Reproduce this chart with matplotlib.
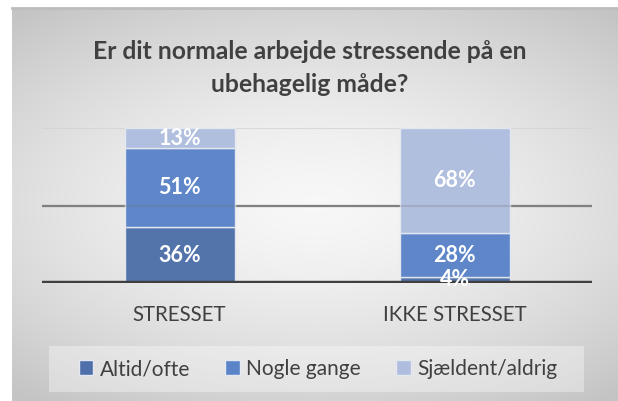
import matplotlib

matplotlib.use("Agg")
import matplotlib.pyplot as plt
import numpy as np
from matplotlib.patches import Patch, Rectangle

plt.rcParams["font.family"] = ["Lato", "DejaVu Sans"]

categories = ["STRESSET", "IKKE STRESSET"]
series_names = ["Altid/ofte", "Nogle gange", "Sjældent/aldrig"]
altid_ofte = [36, 4]
nogle_gange = [51, 28]
sjaeldent_aldrig = [13, 68]
colors = ["#4E6FA9", "#5A83C8", "#AFBEDF"]
title = "Er dit normale arbejde stressende på en\nubehagelig måde?"

W, H = 618, 401
fig = plt.figure(figsize=(W / 100, H / 100), dpi=100)
fig.patch.set_facecolor("white")

# chart area background: soft radial gradient
bg = fig.add_axes([12 / W, 0, 1 - 12 / W, (H - 8) / H])
yy, xx = np.mgrid[-1:1:200j, -1:1:300j]
r = np.sqrt((xx * 0.8) ** 2 + (yy * 1.0) ** 2)
shade = 0.97 - 0.2 * np.clip(r / 1.25, 0, 1) ** 1.5
bg.imshow(np.dstack([shade] * 3), aspect="auto", extent=[0, 1, 0, 1], interpolation="bicubic")
bg.plot([0, 1], [1, 1], color="#BDBDBD", lw=2, transform=bg.transAxes, clip_on=False)
bg.axis("off")

ax = fig.add_axes([42 / W, (H - 283) / H, 550 / W, 155 / H])
ax.patch.set_alpha(0)
x = np.arange(len(categories))
bottom = np.zeros(len(categories))
for name, vals, c in zip(series_names, [altid_ofte, nogle_gange, sjaeldent_aldrig], colors):
    ax.bar(x, vals, 0.4, bottom=bottom, color=c, edgecolor="#E4E8F0", linewidth=1.0,
           alpha=0.97, zorder=2, label=name)
    for xi, v, b in zip(x, vals, bottom):
        ax.text(xi, b + v / 2, f"{v}%", ha="center", va="center", color="white",
                fontsize=15.5, fontweight="bold", zorder=4)
    bottom += np.array(vals)

ax.set_xlim(-0.5, 1.5)
ax.set_ylim(0, 100)
ax.axhline(100, color="#D4D4D4", lw=1.2, zorder=1)
ax.axhline(50, color="#808080", lw=1.6, zorder=1)
ax.axhline(50, color="#808080", lw=1.6, alpha=0.25, zorder=3)
ax.axhline(0, color="#3F3F3F", lw=3.2, zorder=3)
for s in ax.spines.values():
    s.set_visible(False)
ax.set_yticks([])
ax.set_xticks(x)
ax.set_xticklabels(categories, fontsize=14.8, color="#404040")
ax.tick_params(axis="x", length=0, pad=16)

fig.text(310 / W, 1 - 68 / H, title, ha="center", va="center", fontsize=17.8,
         fontweight="bold", color="#404040", linespacing=1.5)

# legend box
fig.patches.append(Rectangle((49 / W, 1 - 392 / H), 535 / W, 46 / H, transform=fig.transFigure,
                             facecolor="white", alpha=0.35, edgecolor="none"))
handles = [Patch(facecolor=c, edgecolor="#E4E8F0", label=n) for n, c in zip(series_names, colors)]
fig.legend(handles=handles, loc="center", bbox_to_anchor=(318 / W, 1 - 369 / H), ncol=3,
           frameon=False, fontsize=15.0, handlelength=0.7, handleheight=0.7, handletextpad=0.3,
           columnspacing=1.7, labelcolor="#404040")

fig.savefig("out.png", dpi=100)
